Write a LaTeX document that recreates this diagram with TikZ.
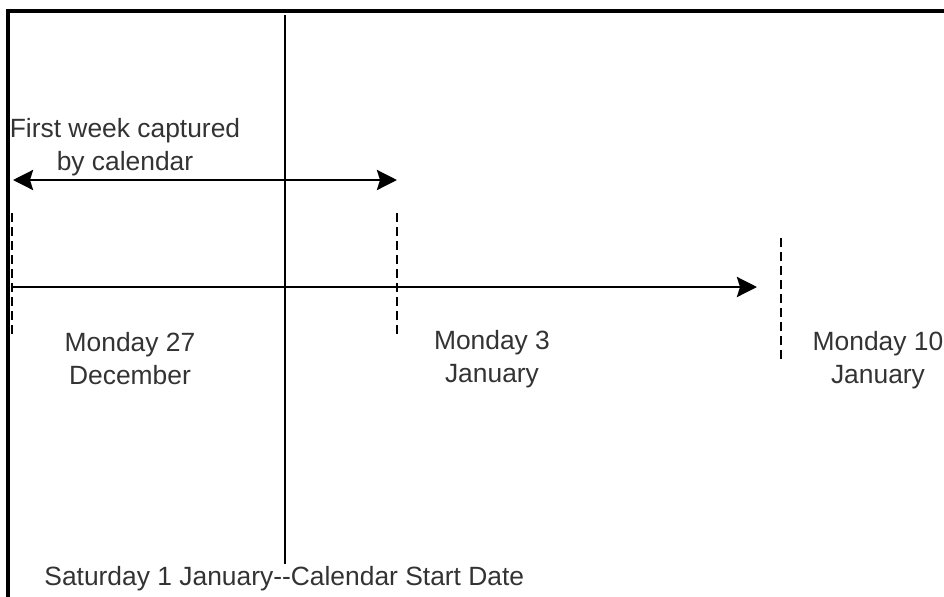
\documentclass[tikz,border=0pt]{standalone}
\usepackage{fontspec}
\setmainfont{Liberation Sans}
\usetikzlibrary{arrows.meta,positioning}

\begin{document}
\begin{tikzpicture}[x=0.5pt,y=-0.5pt]
	\tikzstyle{datetext} = [align=center, text=black!80, font=\fontsize{13.2}{16.5}\selectfont, inner sep=1pt]
	\tikzstyle{axisline} = [line width=1.4pt]
	\tikzstyle{arrow} = [axisline, -{Stealth[length=10pt, width=10pt, inset=1.5pt]}]
	\tikzstyle{bothways} = [axisline, {Stealth[length=10pt, width=10pt, inset=1.5pt]}-{Stealth[length=10pt, width=10pt, inset=1.5pt]}]
	\tikzstyle{weekmark} = [line width=1.4pt, dash pattern=on 4.5pt off 2.5pt]
	\useasboundingbox (0,0) rectangle (944,596);
	\clip (0,0) rectangle (944,596);
	\draw [line width=1.6pt] (8,11) rectangle (970,630);
	% week boundaries
	\coordinate (dec27Top) at (12,213);
	\coordinate (dec27Bottom) at (12,337);
	\coordinate (jan3Top) at (397,213);
	\coordinate (jan3Bottom) at (397,337);
	\coordinate (jan10Top) at (781,238);
	\coordinate (jan10Bottom) at (781,360);
	\coordinate (axisStart) at (12,287);
	\coordinate (axisEnd) at (757,287);
	\coordinate (weekStart) at (13,180);
	\coordinate (weekEnd) at (397,180);
	\coordinate (startTop) at (285,15);
	\node (firstWeek) [datetext] at (125,147) {First week captured\\by calendar};
	\node (dec27) [datetext] at (130,359) {Monday 27\\December};
	\node (jan3) [datetext] at (492,359) {Monday 3\\January};
	\node (jan10) [datetext] at (878,360) {Monday 10\\January};
	\node (startDate) [datetext, anchor=west] at (42,579) {Saturday 1 January-{}-Calendar Start Date};
	\draw [weekmark] (dec27Top) -- (dec27Bottom);
	\draw [weekmark] (jan3Top) -- (jan3Bottom);
	\draw [weekmark] (jan10Top) -- (jan10Bottom);
	\draw [arrow] (axisStart) -- (axisEnd);
	\draw [bothways] (weekStart) -- (weekEnd);
	\draw [axisline] (startTop) -- (startTop |- startDate.north);
\end{tikzpicture}
\end{document}
